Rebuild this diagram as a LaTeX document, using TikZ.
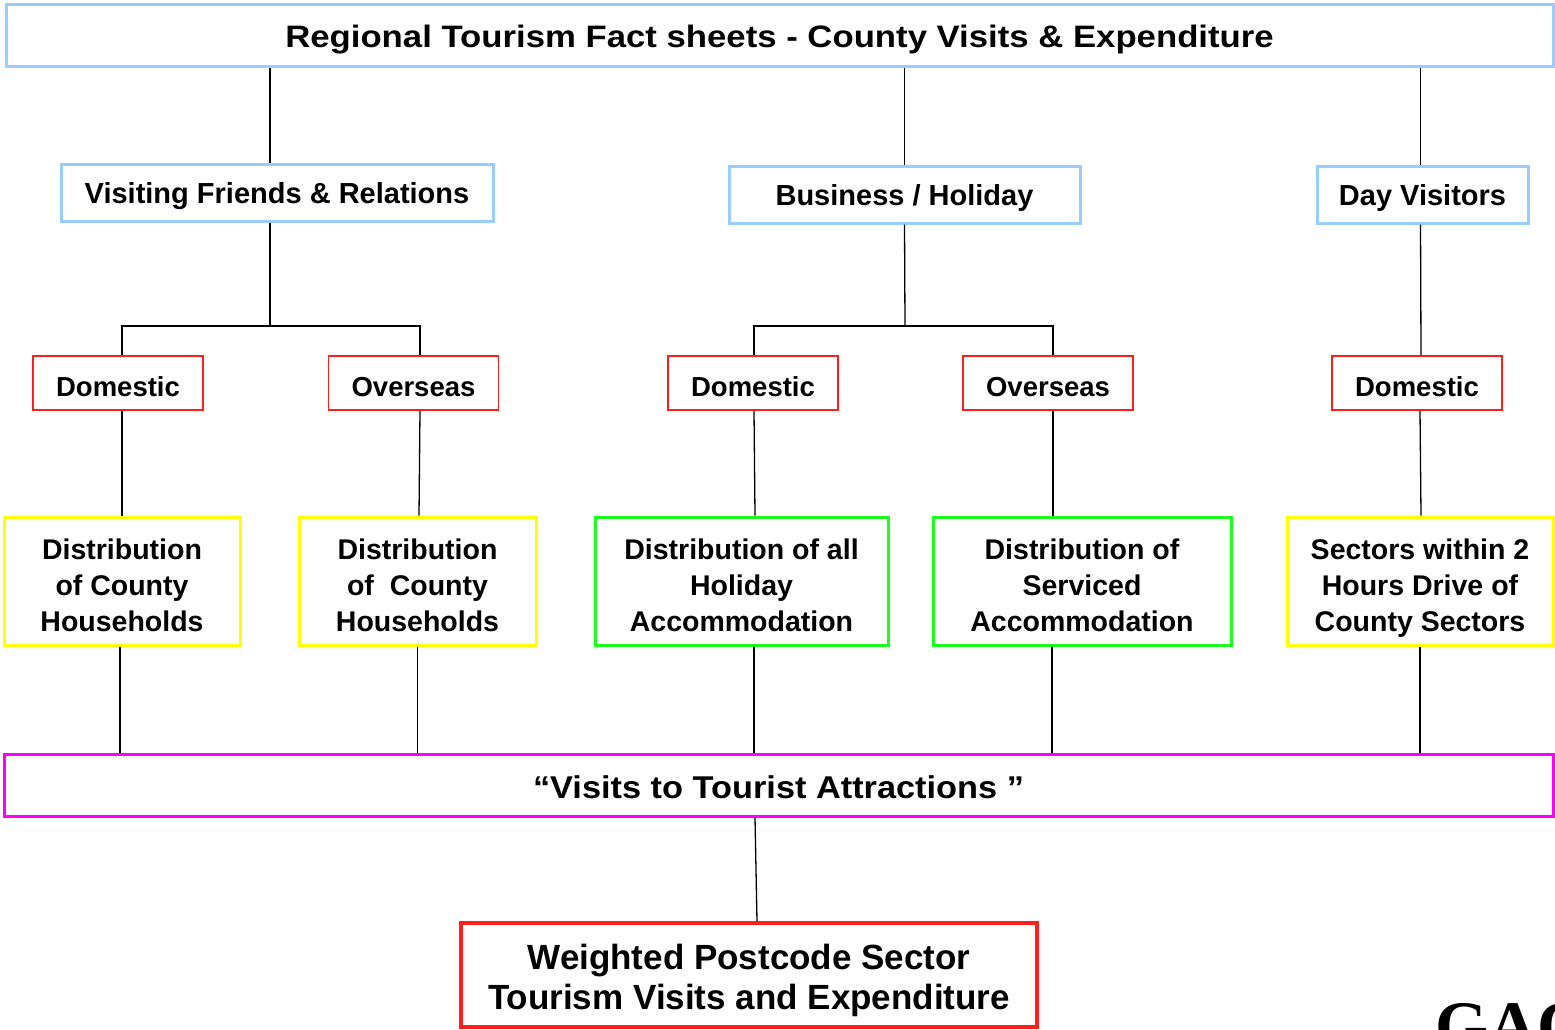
\documentclass[tikz,border=0pt]{standalone}
\usepackage{fontspec}
\setmainfont{Liberation Sans}
\newfontfamily\titlefont[FakeStretch=1.12]{Liberation Sans}
\newfontfamily\attrfont[FakeStretch=1.09]{Liberation Sans}
\newfontfamily\logofont{Liberation Serif}
\newcommand\tallrow{\rule{0pt}{35pt}}
\newcommand\tallerrow{\rule{0pt}{37.5pt}}
\definecolor{boxblue}{RGB}{153,204,255}
\definecolor{boxred}{RGB}{255,30,30}
\definecolor{boxyellow}{RGB}{255,255,0}
\definecolor{boxgreen}{RGB}{30,255,30}
\definecolor{boxmagenta}{RGB}{255,0,255}
\tikzset{
  hdrbox/.style={draw=boxblue,line width=3pt,inner sep=0pt,text height=27pt,text depth=3pt,font=\titlefont\bfseries\fontsize{31}{36}\selectfont},
  catbox/.style={draw=boxblue,line width=3pt,inner sep=0pt,minimum height=57pt,text height=24pt,text depth=2.2pt,font=\bfseries\fontsize{29}{34}\selectfont},
  origbox/.style={draw=boxred,line width=1.8pt,inner sep=0pt,minimum width=170pt,minimum height=54pt,text height=28pt,text depth=1pt,font=\bfseries\fontsize{27.5}{32}\selectfont},
  distbox/.style={line width=3pt,inner sep=0pt,minimum height=128pt,align=center,font=\bfseries\fontsize{28.5}{36}\selectfont,
    execute at end node={\rule[-7pt]{0pt}{0pt}}},
  link/.style={line width=1.3pt}
}
\begin{document}
\begin{tikzpicture}[x=1pt,y=-1pt]
    \useasboundingbox (0,0) rectangle (1555,1029);
    \node[hdrbox,minimum width=1547pt,minimum height=62pt] (title) at (779.5,35) {Regional Tourism Fact sheets - County Visits \& Expenditure};
    \node[catbox,minimum width=432pt] (vfr) at (277,192.5) {Visiting Friends \& Relations};
    \node[catbox,minimum width=351pt] (busy) at (904.5,194.5) {Business / Holiday};
    \node[catbox,minimum width=211pt] (day) at (1422.5,194.5) {Day Visitors};
    \node[origbox] (vfrdom) at (118,383) {Domestic};
    \node[origbox] (vfrovs) at (413.5,383) {Overseas};
    \node[origbox] (busydom) at (753,383) {Domestic};
    \node[origbox] (busyovs) at (1048,383) {Overseas};
    \node[origbox] (daydom) at (1417,383) {Domestic};
    \node[distbox,draw=boxyellow,minimum width=236pt] (hhdom) at (122,581) {\tallrow Distribution\\of County\\Households};
    \node[distbox,draw=boxyellow,minimum width=237pt] (hhovs) at (417.5,581) {\tallrow Distribution\\of\ \ County\\Households};
    \node[distbox,draw=boxgreen,minimum width=293pt] (holacc) at (741.5,581) {\tallrow Distribution of all\\Holiday\\Accommodation};
    \node[distbox,draw=boxgreen,minimum width=298pt] (servacc) at (1082,581) {\tallrow Distribution of\\Serviced\\Accommodation};
    \node[distbox,draw=boxyellow,minimum width=266pt] (drive) at (1420,581) {\tallrow Sectors within 2\\Hours Drive of\\County Sectors};
    \node[hdrbox,draw=boxmagenta,minimum width=1549pt,minimum height=62pt,text height=29.5pt,text depth=2pt,font=\attrfont\bfseries\fontsize{31.5}{36}\selectfont] (attr) at (778.5,785) {“Visits to Tourist Attractions ”};
    \node[draw=boxred,line width=3.5pt,inner sep=0pt,minimum width=576pt,minimum height=104pt,align=center,font=\bfseries\fontsize{35}{40}\selectfont,
      execute at end node={\rule[-8pt]{0pt}{0pt}}] (weighted) at (749,975) {\tallerrow Weighted Postcode Sector\\Tourism Visits and Expenditure};
    \node[anchor=base west,inner sep=0pt,font=\logofont\bfseries\fontsize{68}{68}\selectfont] (logo) at (1435,1048) {GAC};
    \coordinate (vfrsplit) at (270,326);
    \coordinate (busysplit) at (905,326);
    \draw[link] ([xshift=-7pt]vfr.north) -- ([xshift=-7pt]vfr.north |- title.south);
    \draw[link] (busy.north) -- (busy.north |- title.south);
    \draw[link] ([xshift=-2pt]day.north) -- ([xshift=-2pt]day.north |- title.south);
    \draw[link] ([xshift=-7pt]vfr.south) -- (vfrsplit);
    \draw[link] ([xshift=4pt]vfrdom.north) |- (vfrsplit) -| ([xshift=6.5pt]vfrovs.north);
    \draw[link] (busy.south) -- (busysplit);
    \draw[link] ([xshift=1pt]busydom.north) |- (busysplit) -| ([xshift=5pt]busyovs.north);
    \draw[link] ([xshift=-2pt]day.south) -- ([xshift=4pt]daydom.north);
    \draw[link] ([xshift=4pt]vfrdom.south) -- (hhdom.north);
    \draw[link] ([xshift=6.5pt]vfrovs.south) -- ([xshift=1.5pt]hhovs.north);
    \draw[link] ([xshift=1pt]busydom.south) -- ([xshift=13.5pt]holacc.north);
    \draw[link] ([xshift=5pt]busyovs.south) -- ([xshift=-29pt]servacc.north);
    \draw[link] ([xshift=3pt]daydom.south) -- ([xshift=1pt]drive.north);
    \draw[link] ([xshift=-2pt]hhdom.south) -- ([xshift=-2pt]hhdom.south |- attr.north);
    \draw[link] (hhovs.south) -- (hhovs.south |- attr.north);
    \draw[link] ([xshift=12.5pt]holacc.south) -- ([xshift=12.5pt]holacc.south |- attr.north);
    \draw[link] ([xshift=-30pt]servacc.south) -- ([xshift=-30pt]servacc.south |- attr.north);
    \draw[link] (drive.south) -- (drive.south |- attr.north);
    \draw[link] ([xshift=6pt]weighted.north |- attr.south) -- ([xshift=8pt]weighted.north);
\end{tikzpicture}
\end{document}
